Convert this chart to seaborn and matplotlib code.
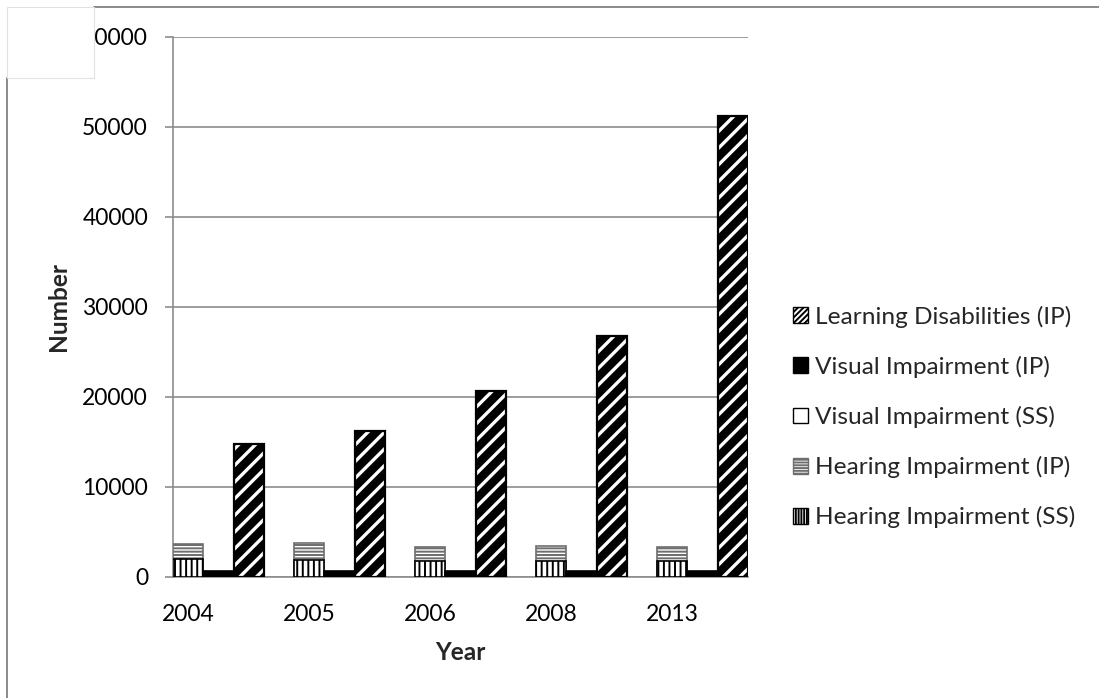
import numpy as np
import pandas as pd
import matplotlib
matplotlib.use("Agg")
import matplotlib.pyplot as plt
import seaborn as sns
from matplotlib.patches import Patch, Rectangle
from matplotlib.lines import Line2D

# ---------------- data ----------------
years = ["2004", "2005", "2006", "2008", "2013"]
hearing_ss = [1950, 1870, 1780, 1780, 1780]
hearing_ip = [1630, 1820, 1550, 1620, 1550]
visual_ss = [120, 120, 120, 120, 120]
visual_ip = [560, 560, 500, 540, 480]
learning_ip = [14700, 16200, 20600, 26700, 51200]
legend_labels = ["Learning Disabilities (IP)", "Visual Impairment (IP)",
                 "Visual Impairment (SS)", "Hearing Impairment (IP)",
                 "Hearing Impairment (SS)"]

# ---------------- style ----------------
sns.set_theme(style="white")
plt.rcParams["font.family"] = ["Lato", "DejaVu Sans"]
plt.rcParams["hatch.linewidth"] = 1.4
FS = 16.5
FS_LEG = 17.6
GRAY = "#8c8c8c"
HGRAY = "#6e6e6e"

W, H = 1099, 698
fig = plt.figure(figsize=(W / 100, H / 100), dpi=100)
fig.patch.set_facecolor("white")
ax_left, ax_right, ax_top, ax_bot = 173, 748, 36.7, 576.7
ax = fig.add_axes([ax_left / W, 1 - ax_bot / H, (ax_right - ax_left) / W, (ax_bot - ax_top) / H])

pos = np.arange(len(years)) * 4
df = pd.DataFrame({
    "year": years,
    "pos_h": pos, "pos_v": pos + 1, "pos_l": pos + 2,
    "h_tot": np.array(hearing_ss) + np.array(hearing_ip),
    "h_ss": hearing_ss,
    "v_tot": np.array(visual_ss) + np.array(visual_ip),
    "v_ss": visual_ss,
    "l_ip": learning_ip,
})


def draw(xcol, ycol, face, edge, hatch=None, lw=1.2, z=3, hatch_lw=None):
    n0 = len(ax.patches)
    sns.barplot(data=df, x=xcol, y=ycol, native_scale=True, width=0.25,
                color="white", saturation=1, errorbar=None, ax=ax,
                linewidth=lw, hatch=hatch)
    for p in ax.patches[n0:]:
        p.set_facecolor(face)
        p.set_edgecolor(edge)
        p.set_linewidth(lw)
        p.set_zorder(z)
        if hatch_lw is not None and hasattr(p, "set_hatch_linewidth"):
            p.set_hatch_linewidth(hatch_lw)


# hearing: IP on top (drawn full height), SS over it
draw("pos_h", "h_tot", "white", HGRAY, hatch="-----")
draw("pos_h", "h_ss", "white", "black", hatch="|||")
# visual
draw("pos_v", "v_tot", "black", "black")
draw("pos_v", "v_ss", "white", "black")
# learning disabilities: black bar with white diagonal stripes, black outline
draw("pos_l", "l_ip", "black", "white", hatch="//", lw=0, z=3, hatch_lw=2.4)
draw("pos_l", "l_ip", "none", "black", lw=1.6, z=4)

# ---------------- axes ----------------
ax.set_xlim(-0.5, pos[-1] + 2.5)
ax.set_ylim(0, 60000)
ax.set_yticks(range(0, 60001, 10000))
ax.set_yticklabels([str(v) for v in range(0, 60001, 10000)])
ax.set_xticks(pos)
ax.set_xticklabels(years)
ax.yaxis.grid(True, color=GRAY, lw=1.2)
ax.xaxis.grid(False)
ax.set_axisbelow(True)
for s in ["top", "right"]:
    ax.spines[s].set_visible(False)
for s in ["left", "bottom"]:
    ax.spines[s].set_color(GRAY)
    ax.spines[s].set_linewidth(1.2)
ax.tick_params(axis="y", left=True, length=6, width=1.2, color=GRAY,
               direction="out", pad=12, labelsize=FS, labelcolor="black")
ax.tick_params(axis="x", bottom=False, length=0, pad=20, labelsize=FS,
               labelcolor="black")
ax.set_xlabel("Year", fontsize=FS_LEG, fontweight="bold", labelpad=11)
ax.set_ylabel("Number", fontsize=FS_LEG, fontweight="bold", labelpad=9)
ax.set_facecolor("white")

# ---------------- legend ----------------
handles = [
    Patch(facecolor="white", edgecolor="black", hatch="//////", lw=1),
    Patch(facecolor="black", edgecolor="black", lw=1),
    Patch(facecolor="white", edgecolor="black", lw=1),
    Patch(facecolor="white", edgecolor=HGRAY, hatch="------", lw=1),
    Patch(facecolor="white", edgecolor="black", hatch="||||||", lw=1),
]
leg = fig.legend(handles, legend_labels, loc="center left",
                 bbox_to_anchor=(793 / W, 1 - 417 / H), frameon=False,
                 fontsize=FS_LEG, handlelength=0.62, handleheight=0.62,
                 handletextpad=0.3, labelspacing=1.15, borderpad=0,
                 borderaxespad=0)

# ---------------- outer frame (cropped chart border) ----------------
fig.add_artist(Line2D([94 / W, 1], [1 - 7 / H, 1 - 7 / H], color="#8a8a8a",
                      lw=1.4, transform=fig.transFigure, zorder=10))
fig.add_artist(Line2D([7 / W, 7 / W], [0, 1 - 78 / H], color="#8a8a8a",
                      lw=1.4, transform=fig.transFigure, zorder=10))
fig.add_artist(Rectangle((7 / W, 1 - 78 / H), 87 / W, 71 / H,
                         transform=fig.transFigure, facecolor="white",
                         edgecolor="#e2e2e2", lw=0.8, zorder=10))

fig.savefig("out.png", dpi=100, facecolor="white")
